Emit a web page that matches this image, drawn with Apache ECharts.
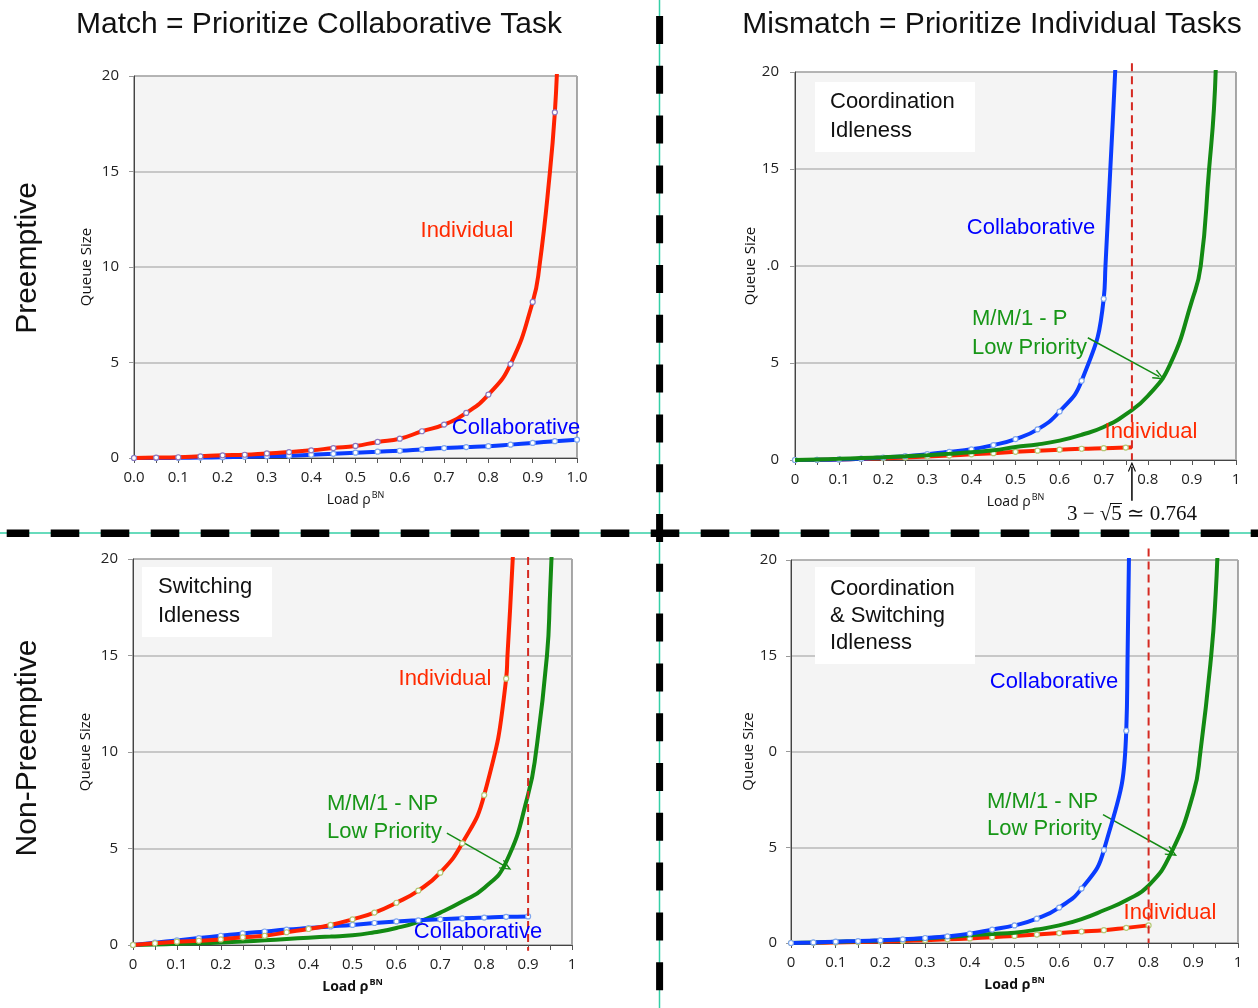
<!DOCTYPE html>
<html><head><meta charset="utf-8">
<script src="https://cdn.jsdelivr.net/npm/echarts@6/dist/echarts.min.js"></script>
<style>html,body{margin:0;padding:0;background:#fff}#c{width:1258px;height:1008px}</style>
</head><body><div id="c"></div>
<script>
// ---------- DATA ----------
const rho = [0,0.05,0.1,0.15,0.2,0.25,0.3,0.35,0.4,0.45,0.5,0.55,0.6,0.65,0.7,0.75,0.8,0.85,0.9,0.95,1.0];
const yTicks = [0,5,10,15,20];

// Top-left: Preemptive, Match
const tlCollab     = [0,0.0,0.01,0.02,0.04,0.06,0.09,0.12,0.17,0.22,0.28,0.33,0.38,0.45,0.52,0.57,0.62,0.70,0.79,0.88,0.96];
const tlIndividual = [0,0.02,0.04,0.09,0.14,0.17,0.24,0.31,0.40,0.52,0.63,0.84,1.01,1.40,1.75,2.36,3.32,4.92,8.17,18.1];
const tlIndividualCurve = [[0.915,10],[0.939,15],[0.956,21]];

// Top-right: Preemptive, Mismatch
const trCollab     = [0,0.01,0.03,0.07,0.13,0.2,0.3,0.42,0.55,0.77,1.08,1.58,2.5,4.08,8.31];
const trCollabCurve = [[0.704,10],[0.715,15],[0.726,20],[0.729,22]];
const trIndividual = [0,0.01,0.03,0.06,0.09,0.13,0.18,0.23,0.29,0.35,0.42,0.48,0.53,0.58,0.61,0.64];
const trIndividualEnd = [[0.764,0.66]];
const trLowP       = [0,0.03,0.06,0.1,0.14,0.19,0.25,0.32,0.4,0.5,0.67,0.8,1.0,1.3,1.7,2.35,3.3,4.9,8.2,18.1];
const trLowPCurve  = [[0.92,10],[0.939,15],[0.955,21]];
const trThreshold  = 0.764;

// Bottom-left: Non-Preemptive, Match
const blIndividual = [0,0.09,0.17,0.22,0.29,0.4,0.48,0.66,0.83,1.04,1.33,1.68,2.19,2.82,3.75,5.27,7.77,13.8];
const blIndividualCurve = [[0.853,15],[0.865,20],[0.868,22]];
const blCollab     = [0,0.12,0.24,0.36,0.48,0.6,0.7,0.8,0.88,0.96,1.04,1.14,1.22,1.28,1.33,1.38,1.42,1.46,1.48];
const blLowNP      = [0,0.03,0.06,0.09,0.13,0.18,0.24,0.31,0.38,0.44,0.5,0.66,0.88,1.2,1.68,2.25,2.95,4.3,7.8,18.2];
const blLowNPCurve = [[0.918,10],[0.943,15],[0.955,21]];
const blThreshold  = 0.9;

// Bottom-right: Non-Preemptive, Mismatch
const brCollab     = [0,0.03,0.07,0.1,0.14,0.19,0.26,0.35,0.49,0.7,0.92,1.27,1.85,2.84,4.85,11.08];
const brCollabCurve = [[0.753,15],[0.756,20],[0.758,22]];
const brIndividual = [0,0.01,0.03,0.05,0.08,0.11,0.15,0.19,0.24,0.3,0.37,0.44,0.52,0.6,0.67,0.79,0.92];
const brLowNP      = [0,0.03,0.06,0.09,0.13,0.18,0.24,0.31,0.4,0.47,0.54,0.7,0.92,1.25,1.71,2.23,3.0,4.68,7.8,18.2];
const brLowNPCurve = [[0.916,10],[0.94,15],[0.955,21]];
const brThreshold  = 0.8;

// ---------- STYLE ----------
const RED = '#ff2200', BLUE = '#0a3cff', GREEN = '#138a13';
const RED_T = '#ff2a00', BLUE_T = '#0000ff', GREEN_T = '#179617';
const MK_PURPLE = '#8a78c0', MK_BLUE = '#7fa6ee', MK_GREEN = '#b4c874';
const SANS = 'Liberation Sans, Arial, sans-serif';
const TICKF = 'Open Sans, Liberation Sans, sans-serif';
const CHEVRON = 'path://M0,10 L5,0 L10,10 L8.8,10.7 L5,3 L1.2,10.7 Z';

const grids = [
  {left:134, top:76,  width:443, height:382},
  {left:795, top:72,  width:441, height:388},
  {left:133, top:559, width:439, height:386},
  {left:791, top:560, width:447, height:383}
];

function xAxisCfg(gi, oneDecimal, bold, nameGap) {
  return {
    type:'value', gridIndex:gi, min:0, max:1, interval:0.05,
    axisLine:{show:true, onZero:false, lineStyle:{color:'#444', width:1}},
    axisTick:{show:true, length:5, lineStyle:{color:'#555'}},
    splitLine:{show:false},
    axisLabel:{margin:12, fontSize:15, color:'#222', fontFamily:TICKF,
      formatter: v => { const k = Math.round(v*20); if (k % 2) return '';
        if (oneDecimal) return (k/20).toFixed(1);
        return k === 0 ? '0' : (k === 20 ? '1' : (k/20).toFixed(1)); }},
    name:'Load ρ{s|BN}', nameLocation:'middle', nameGap:nameGap,
    nameTextStyle:{fontSize:14, color:'#111', fontFamily:TICKF, fontWeight: bold ? 'bold' : 'normal',
      rich:{s:{fontSize:9, fontFamily:TICKF, fontWeight: bold ? 'bold' : 'normal', color:'#111', padding:[0,0,9,1]}}}
  };
}
function yAxisCfg(gi, tenLabel, margin, nameGap) {
  return {
    type:'value', gridIndex:gi, min:yTicks[0], max:yTicks[yTicks.length-1], interval:5,
    axisLine:{show:true, lineStyle:{color:'#444', width:1}},
    axisTick:{show:true, length:5, lineStyle:{color:'#999'}},
    splitLine:{show:true, lineStyle:{color:'#b9b9b9', width:1.5}},
    axisLabel:{margin:margin, fontSize:15, color:'#222', fontFamily:TICKF,
      formatter: v => (v === 10 ? tenLabel : String(v))},
    name:'Queue Size', nameLocation:'middle', nameGap:nameGap,
    nameTextStyle:{fontSize:15, color:'#111', fontFamily:TICKF}
  };
}

function curve(gi, ys, extra, color, mk, z) {
  const pts = ys.map((y,i) => mk ? {value:[rho[i], y]} : {value:[rho[i], y], symbol:'none'});
  (extra || []).forEach(p => pts.push({value:p, symbol:'none'}));
  pts.sort((a,b) => a.value[0] - b.value[0]);
  return {type:'line', xAxisIndex:gi, yAxisIndex:gi, data:pts, smooth:0.5,
    symbol:'circle', symbolSize:5, showSymbol: !!mk, clip:true, silent:true, z:z,
    lineStyle:{color:color, width:4},
    itemStyle:{color:'#fff', borderColor: mk || color, borderWidth:1.2}};
}
function threshold(gi, x, top, bottom, arrows) {
  return {type:'line', xAxisIndex:gi, yAxisIndex:gi, data:[[x, top],[x, bottom]], symbol:'none',
    clip:false, silent:true, z:6, lineStyle:{color:'#d52a22', width:2, type:[8,5]},
    markLine:{silent:true, animation:false, symbol:['none', CHEVRON], symbolSize:[10,12],
      label:{show:false}, lineStyle:{type:'solid', width:1.5, color:GREEN},
      data: arrows.map(a => [{coord:a.from, lineStyle:{color:a.color, width:1.5, type:'solid'}, itemStyle:{color:a.color}}, {coord:a.to, itemStyle:{color:a.color}}])}};
}
// black arrow under the axis pointing up at the threshold (outside the plot, so a plain unclipped line)
function pointer(gi, x, from, to) {
  return {type:'line', xAxisIndex:gi, yAxisIndex:gi, clip:false, silent:true, z:7,
    data:[{value:[x, from], symbol:'none'}, {value:[x, to], symbol:CHEVRON, symbolSize:[8,10]}],
    showSymbol:true, lineStyle:{color:'#000', width:1.5}, itemStyle:{color:'#000'}};
}

const series = [
  // TL
  curve(0, tlCollab, null, BLUE, MK_BLUE, 3),
  curve(0, tlIndividual, tlIndividualCurve, RED, MK_PURPLE, 4),
  // TR
  curve(1, trIndividual, trIndividualEnd, RED, MK_GREEN, 3),
  curve(1, trCollab, trCollabCurve, BLUE, MK_BLUE, 4),
  curve(1, trLowP, trLowPCurve, GREEN, null, 5),
  threshold(1, trThreshold, 20.45, 0, [
    {from:[0.664, 6.3], to:[0.826, 4.3], color:GREEN}
  ]),
  pointer(1, trThreshold, -2.1, -0.35),
  // BL
  curve(2, blLowNP, blLowNPCurve, GREEN, null, 3),
  curve(2, blCollab, null, BLUE, MK_BLUE, 4),
  curve(2, blIndividual, blIndividualCurve, RED, MK_GREEN, 5),
  threshold(2, blThreshold, 20.1, -0.3, [
    {from:[0.715, 5.8], to:[0.85, 4.05], color:GREEN}
  ]),
  // BR
  curve(3, brIndividual, null, RED, MK_GREEN, 3),
  curve(3, brLowNP, brLowNPCurve, GREEN, null, 4),
  curve(3, brCollab, brCollabCurve, BLUE, MK_BLUE, 5),
  threshold(3, brThreshold, 20.6, 0, [
    {from:[0.698, 6.7], to:[0.852, 4.7], color:GREEN}
  ])
];

// ---------- ANNOTATIONS (graphic) ----------
function T(x, y, text, fill, size, align, opt) {
  const o = opt || {};
  return {type:'text', x:x, y:y, z:100, rotation:o.rot || 0,
    style:{text:text, fill:fill, fontSize:size, fontFamily:o.font || SANS, fontWeight:o.weight || 'normal',
      textAlign:align || 'center', align:align || 'center', textVerticalAlign:'middle', verticalAlign:'middle'}};
}
function R(x, y, w, h) { return {type:'rect', z:90, shape:{x:x, y:y, width:w, height:h}, style:{fill:'#fff'}}; }
function L(x1, y1, x2, y2, stroke, w, dash, off) {
  return {type:'line', z:110, shape:{x1:x1, y1:y1, x2:x2, y2:y2},
    style:{stroke:stroke, lineWidth:w, lineDash:dash || null, lineDashOffset:off || 0}};
}

const graphics = [
  // dividers
  L(659.5, 0, 659.5, 1008, '#35cfa6', 1.5),
  L(0, 533, 1258, 533, '#35cfa6', 1.5),
  L(659.6, 16, 659.6, 1008, '#000', 7, [28, 21.8]),
  L(6.7, 533.2, 1258, 533.2, '#000', 7.5, [28.6, 21.4], 6),
  // titles
  T(319, 25, 'Match = Prioritize Collaborative Task', '#111', 30),
  T(992, 25, 'Mismatch = Prioritize Individual Tasks', '#111', 30),
  T(28, 258, 'Preemptive', '#111', 30, 'center', {rot: Math.PI/2}),
  T(28, 748, 'Non-Preemptive', '#111', 30, 'center', {rot: Math.PI/2}),
  // TL
  T(467, 231, 'Individual', RED_T, 22),
  T(516, 428, 'Collaborative', BLUE_T, 22),
  // TR
  R(815, 82, 160, 70),
  T(830, 102, 'Coordination', '#111', 22, 'left'),
  T(830, 131, 'Idleness', '#111', 22, 'left'),
  T(1031, 228, 'Collaborative', BLUE_T, 22),
  T(972, 319, 'M/M/1 - P', GREEN_T, 22, 'left'),
  T(972, 348, 'Low Priority', GREEN_T, 22, 'left'),
  T(1151, 432, 'Individual', RED_T, 22),
  T(1132, 514, '3 − √5 ≃ 0.764', '#111', 21, 'center', {font:'Liberation Serif, DejaVu Serif, serif'}),
  L(1110, 503.5, 1122, 503.5, '#111', 1),
  // BL
  R(142, 567, 130, 70),
  T(158, 587, 'Switching', '#111', 22, 'left'),
  T(158, 616, 'Idleness', '#111', 22, 'left'),
  T(445, 679, 'Individual', RED_T, 22),
  T(327, 804, 'M/M/1 - NP', GREEN_T, 22, 'left'),
  T(327, 832, 'Low Priority', GREEN_T, 22, 'left'),
  T(478, 932, 'Collaborative', BLUE_T, 22),
  // BR
  R(815, 567, 160, 97),
  T(830, 589, 'Coordination', '#111', 22, 'left'),
  T(830, 616, '& Switching', '#111', 22, 'left'),
  T(830, 643, 'Idleness', '#111', 22, 'left'),
  T(1054, 682, 'Collaborative', BLUE_T, 22),
  T(987, 802, 'M/M/1 - NP', GREEN_T, 22, 'left'),
  T(987, 829, 'Low Priority', GREEN_T, 22, 'left'),
  T(1170, 913, 'Individual', RED_T, 22)
];

const chart = echarts.init(document.getElementById('c'), null, {renderer:'canvas'});
chart.setOption({
  animation:false,
  backgroundColor:'#fff',
  grid: grids.map(g => Object.assign({show:true, backgroundColor:'#f4f4f4', borderColor:'#555', borderWidth:1, containLabel:false}, g)),
  xAxis:[xAxisCfg(0, true, false, 33), xAxisCfg(1, false, false, 33), xAxisCfg(2, false, true, 33), xAxisCfg(3, false, true, 33)],
  yAxis:[yAxisCfg(0, '10', 15, 40), yAxisCfg(1, '.0', 16, 35), yAxisCfg(2, '10', 15, 40), yAxisCfg(3, '0', 14, 32)],
  series: series,
  graphic: {elements: graphics}
});
</script>
</body></html>
